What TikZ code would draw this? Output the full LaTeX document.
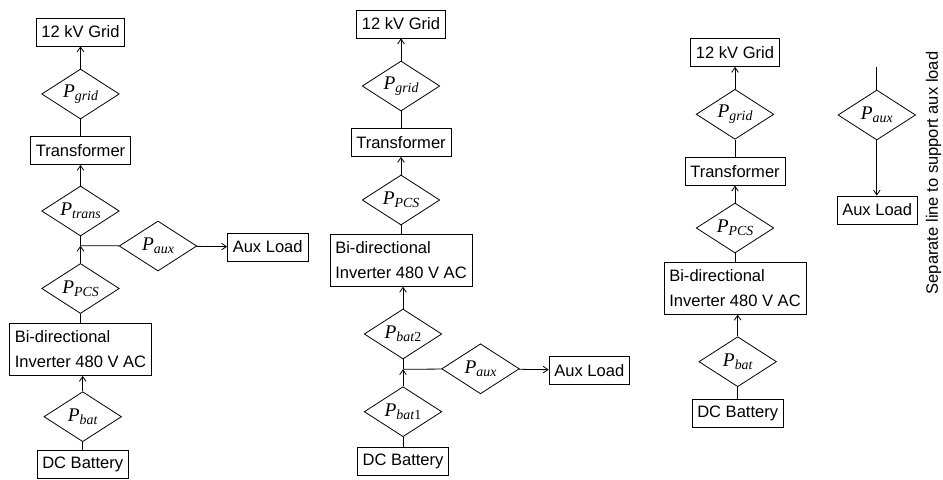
\documentclass[tikz,border=0pt]{standalone}
\usepackage{fontspec}
\setmainfont{Liberation Sans}
\newfontfamily\pfont{Liberation Serif}
\usetikzlibrary{shapes.geometric, arrows, arrows.meta}
\newcommand{\pw}[1]{{\pfont\itshape\fontsize{14.5}{16}\selectfont P\raisebox{-2.6pt}{\fontsize{10.4}{12}\selectfont #1}}}
\tikzstyle{block} = [rectangle, draw, line width=0.6pt, minimum height=21pt, inner xsep=4pt, inner ysep=0pt, text centered, font=\fontsize{12.4}{18.75}\selectfont]
\tikzstyle{inverter} = [block, align=left, minimum height=39pt]
\tikzstyle{power} = [diamond, draw, line width=0.6pt, aspect=1.55, minimum width=58.2pt, minimum height=37.5pt, inner sep=0pt]
\tikzstyle{wire} = [line width=0.6pt]
\tikzstyle{arrow} = [wire, ->, >={Straight Barb[length=3.6pt, width=5pt]}]

\begin{document}
\begin{tikzpicture}[x=0.75pt, y=-0.75pt]
    \useasboundingbox (0,0) rectangle (943,479);

    % grid, aux load on the PCS side
    \node [block] at (80.5,32) (grid1) {12 kV Grid};
    \node [power] at (80.5,94) (pgrid1) {\pw{grid}};
    \node [block] at (80.5,150.5) (trans1) {Transformer};
    \node [power] at (80.5,211) (ptrans1) {\pw{trans}};
    \coordinate (junc1) at (80.5,245.7);
    \node [power] at (158,246) (paux1) {\pw{aux}};
    \node [block] at (267.7,247) (aux1) {Aux Load};
    \node [power] at (80.5,288.5) (ppcs1) {\pw{PCS}};
    \node [inverter] at (80.5,349.5) (inv1) {Bi-directional\\Inverter 480 V AC};
    \node [power] at (82.7,416.7) (pbat1) {\pw{bat}};
    \node [block] at (82.7,464.5) (dc1) {DC Battery};

    \draw [arrow] (pgrid1) -- (grid1);
    \draw [wire] (trans1) -- (pgrid1);
    \draw [arrow] (ptrans1) -- (trans1);
    \draw [wire] (ptrans1) -- (junc1);
    \draw [wire] (junc1) -- (paux1);
    \draw [arrow] (paux1) -- (aux1);
    \draw [arrow] (ppcs1) -- (junc1);
    \draw [wire] (inv1) -- (ppcs1);
    \draw [arrow] (pbat1) -- (pbat1 |- inv1.south);
    \draw [wire] (dc1) -- (pbat1);

    % grid, aux load on the battery side
    \node [block] at (401,24) (grid2) {12 kV Grid};
    \node [power] at (401,86) (pgrid2) {\pw{grid}};
    \node [block] at (401,142.5) (trans2) {Transformer};
    \node [power] at (401,200) (ppcs2) {\pw{PCS}};
    \node [inverter] at (401,260.3) (inv2) {Bi-directional\\Inverter 480 V AC};
    \node [power] at (403,334) (pbattwo) {\pw{bat\textup{2}}};
    \coordinate (junc2) at (403,369.3);
    \node [power] at (480.5,368.8) (paux2) {\pw{aux}};
    \node [block] at (589.3,370.2) (aux2) {Aux Load};
    \node [power] at (403,411.7) (pbatone) {\pw{bat\textup{1}}};
    \node [block] at (403,461.8) (dc2) {DC Battery};

    \draw [arrow] (pgrid2) -- (grid2);
    \draw [wire] (trans2) -- (pgrid2);
    \draw [arrow] (ppcs2) -- (trans2);
    \draw [wire] (inv2) -- (ppcs2);
    \draw [arrow] (pbattwo) -- (pbattwo |- inv2.south);
    \draw [wire] (pbattwo) -- (junc2);
    \draw [wire] (junc2) -- (paux2);
    \draw [arrow] (paux2) -- (aux2);
    \draw [arrow] (pbatone) -- (junc2);
    \draw [wire] (dc2) -- (pbatone);

    % separate aux line
    \node [block] at (735,52.5) (grid3) {12 kV Grid};
    \node [power] at (735,114.3) (pgrid3) {\pw{grid}};
    \node [block] at (735,171.2) (trans3) {Transformer};
    \node [power] at (735,228) (ppcs3) {\pw{PCS}};
    \node [inverter] at (735,288.3) (inv3) {Bi-directional\\Inverter 480 V AC};
    \node [power] at (737.7,361.7) (pbat3) {\pw{bat}};
    \node [block] at (737.7,413.2) (dc3) {DC Battery};

    \draw [arrow] (pgrid3) -- (grid3);
    \draw [wire] (trans3) -- (pgrid3);
    \draw [arrow] (ppcs3) -- (trans3);
    \draw [wire] (inv3) -- (ppcs3);
    \draw [arrow] (pbat3) -- (pbat3 |- inv3.south);
    \draw [wire] (dc3) -- (pbat3);

    \coordinate (feed3) at (876.8,66.7);
    \node [power] at (876.8,115) (paux3) {\pw{aux}};
    \node [block] at (877.2,210) (aux3) {Aux Load};
    \draw [wire] (feed3) -- (paux3);
    \draw [arrow] (paux3) -- (paux3 |- aux3.north);

    \node [rotate=90, font=\fontsize{12.4}{15}\selectfont] at (933.5,173) (note) {Separate line to support aux load};
\end{tikzpicture}
\end{document}
